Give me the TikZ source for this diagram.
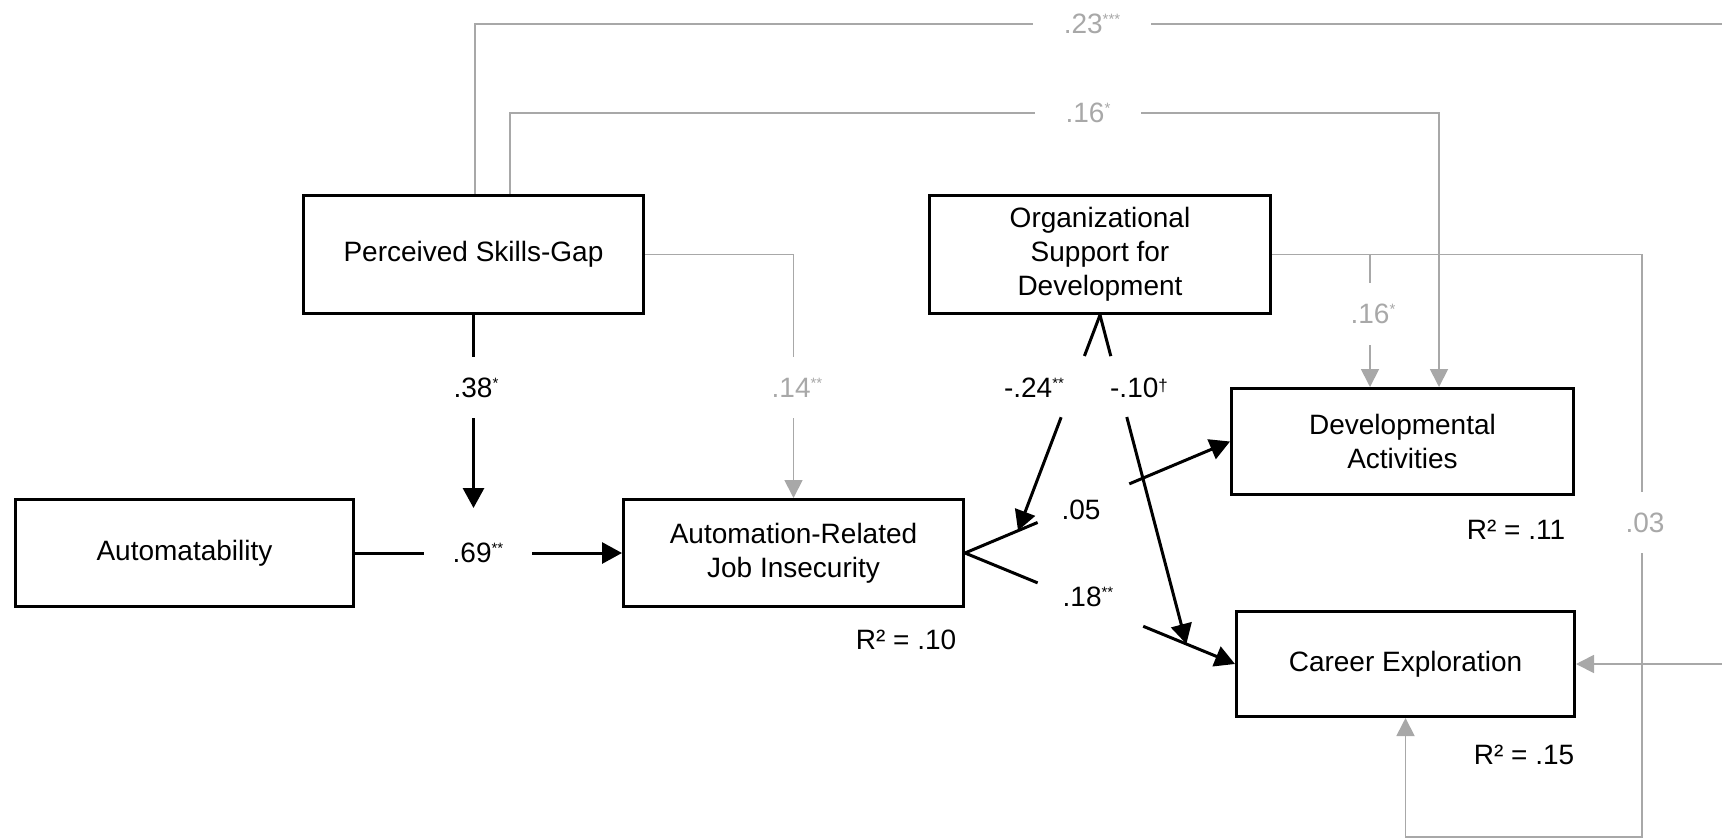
\documentclass[tikz,border=0pt]{standalone}
\usepackage{fontspec}
\setmainfont{Liberation Sans}
\usetikzlibrary{arrows.meta,calc}
\definecolor{lg}{RGB}{168,168,168}
\newcommand\sigs[1]{\raisebox{9pt}{\fontsize{15}{15}\selectfont #1}}
\newcommand\dagr{\raisebox{6pt}{\fontsize{17}{17}\selectfont\textdagger}}
\begin{document}
\begin{tikzpicture}[x=1pt,y=-1pt,
  box/.style={draw,line width=3pt,align=center,inner sep=0pt,font=\fontsize{28}{34}\selectfont},
  blk/.style={line width=3pt},
  blkarr/.style={blk,-{Triangle[length=20pt,width=21pt]}},
  gry/.style={draw=lg,line width=1.8pt},
  gryarr/.style={gry,-{Triangle[length=18pt,width=18pt]}},
  lab/.style={font=\fontsize{28}{34}\selectfont,inner sep=0pt},
  glab/.style={lab,text=lg},
  gap/.style={fill=white}]
\useasboundingbox (0,0) rectangle (1722,839);

% boxes
\node[box,minimum width=340pt,minimum height=118pt] (psg) at (473.5,254.5) {Perceived Skills-Gap};
\node[box,minimum width=341pt,minimum height=118pt] (osd) at (1100,254.5) {Organizational\\Support for\\Development};
\node[box,minimum width=338pt,minimum height=107pt] (aut) at (184.5,553) {Automatability};
\node[box,minimum width=340pt,minimum height=107pt] (arji) at (793.5,553) {Automation-Related\\Job Insecurity};
\node[box,minimum width=342pt,minimum height=106pt] (da) at (1402.5,441.5) {Developmental\\Activities};
\node[box,minimum width=338pt,minimum height=105pt] (ce) at (1405.5,664) {Career Exploration};

% helper coordinates
\coordinate (p23) at ([xshift=1.5pt]psg.north);
\coordinate (top23) at (0,24);
\coordinate (r23) at (1722,24);
\coordinate (p16) at ([xshift=36.5pt]psg.north);
\coordinate (top16) at (0,113);
\coordinate (d16) at ([xshift=36.5pt]da.north);
\coordinate (d16b) at ([xshift=-32.5pt]da.north);
\coordinate (o03) at (1642,0);
\coordinate (bot) at (0,837);
\coordinate (rce) at (1722,664);
\coordinate (m38) at (473.5,508);
\coordinate (t1) at ($(arji.east)!0.2!(da.west)$);
\coordinate (t2) at ($(arji.east)!0.82!(ce.west)$);

% grey paths
\draw[gry] (p23) -- (p23 |- top23) -- (r23);
\node[glab,gap,minimum width=118pt,minimum height=22pt] at (1092,24) {.23\sigs{***}};
\draw[gryarr] (p16) -- (p16 |- top16) -| (d16);
\node[glab,gap,minimum width=106pt,minimum height=22pt] at (1088,113) {.16\sigs{*}};
\draw[gryarr] (psg.east) -| (arji.north);
\node[glab,gap,minimum height=61pt] at (797,387.5) {.14\sigs{**}};
\draw[gryarr] (osd.east) -| (o03 |- bot) -| (ce.south);
\draw[gryarr] (osd.east -| d16b) -- (d16b);
\node[glab,gap,minimum height=62pt] at (1373,314) {.16\sigs{*}};
\node[glab,gap,minimum height=61pt] at (1645,522.5) {.03};
\draw[gryarr] (rce) -- (ce.east);

% black paths
\draw[blkarr] (psg.south) -- (m38);
\node[lab,gap,minimum height=61pt] at (476,387.5) {.38\sigs{*}};
\draw[blkarr] (aut.east) -- (arji.west);
\node[lab,gap,minimum width=108pt,minimum height=30pt] at (478,553) {.69\sigs{**}};

\draw[blk] (arji.east) -- ($(arji.east)!0.274!(da.west)$);
\draw[blkarr] ($(arji.east)!0.62!(da.west)$) -- (da.west);
\draw[blk] (arji.east) -- ($(arji.east)!0.269!(ce.west)$);
\draw[blkarr] ($(arji.east)!0.66!(ce.west)$) -- (ce.west);
\draw[blk] (osd.south) -- ($(osd.south)!0.19!(t1)$);
\draw[blkarr] ($(osd.south)!0.474!(t1)$) -- (t1);
\draw[blk] (osd.south) -- ($(osd.south)!0.125!(t2)$);
\draw[blkarr] ($(osd.south)!0.31!(t2)$) -- (t2);

\node[lab] at (1034,388) {-.24\sigs{**}};
\node[lab] at (1139,388) {-.10\dagr};
\node[lab] at (1081,510) {.05};
\node[lab] at (1088,597) {.18\sigs{**}};

% R squared
\node[lab] at (906,640) {R² = .10};
\node[lab] at (1516,530) {R² = .11};
\node[lab] at (1524,755) {R² = .15};
\end{tikzpicture}
\end{document}
